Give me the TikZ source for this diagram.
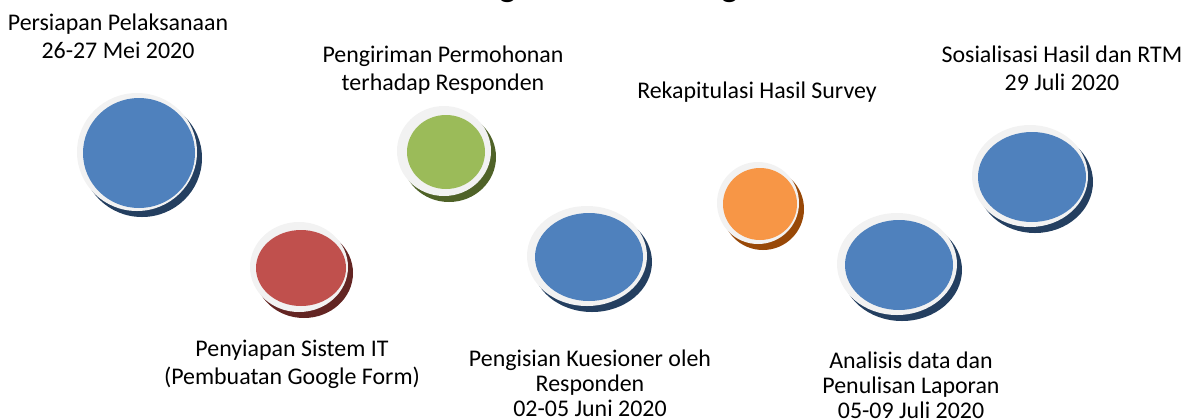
\documentclass[tikz,border=0pt]{standalone}
\usepackage{fontspec}
\setmainfont{Carlito}
\definecolor{bluef}{HTML}{4F81BD}
\definecolor{blues}{HTML}{243F60}
\definecolor{greenf}{HTML}{9BBB59}
\definecolor{greens}{HTML}{4F6228}
\definecolor{orangef}{HTML}{F79646}
\definecolor{oranges}{HTML}{984807}
\definecolor{redf}{HTML}{C0504D}
\definecolor{reds}{HTML}{632523}
\definecolor{ring}{HTML}{F2F2F2}
\tikzset{
  lbl/.style={font=\fontsize{24}{28.5}\selectfont, align=center, inner sep=0pt, anchor=base},
  lbltight/.style={lbl, font=\fontsize{24}{25}\selectfont},
  ttl/.style={font=\fontsize{36}{40}\selectfont, inner sep=0pt, anchor=base},
}
% #1 name, #2 cx, #3 cy, #4 rx, #5 ry, #6 fill, #7 shadow, #8 inner rx, #9 inner ry
\newcommand{\disc}[9]{%
  \fill[#7] (#2+5,#3+6) ellipse [x radius=#4, y radius=#5];
  \fill[ring] (#2,#3) ellipse [x radius=#4, y radius=#5];
  \fill[#6] (#2+2,#3+1) ellipse [x radius=#8, y radius=#9];
  \coordinate (#1) at (#2,#3);
}
\begin{document}
\begin{tikzpicture}[x=1bp,y=-1bp]
\useasboundingbox (0,0) rectangle (1192,419);
% clipped title fragments
\node[ttl] (t1) at (507.5,-4) {g};
\node[ttl] (t2) at (729.5,-4) {g};
% discs
\disc{c1}{137}{152}{60}{59}{bluef}{blues}{56}{55}
\disc{c2}{444}{151}{47}{45}{greenf}{greens}{39}{37}
\disc{c3}{299}{267}{49}{45}{redf}{reds}{45}{38}
\disc{c4}{587}{256}{60}{50}{bluef}{blues}{54}{44}
\disc{c5}{758}{203}{41}{41}{orangef}{oranges}{37}{36}
\disc{c6}{897}{264}{60}{51}{bluef}{blues}{54}{45}
\disc{c7}{1030}{176}{58}{51}{bluef}{blues}{54}{45}
% labels (anchor = baseline of last line)
\node[lbl] (l1) at (118,58.5) {Persiapan Pelaksanaan\\26-27 Mei 2020};
\node[lbl] (l2) at (443,90.5) {Pengiriman Permohonan\\terhadap Responden};
\node[lbl] (l3) at (757,98.5) {Rekapitulasi Hasil Survey};
\node[lbl] (l4) at (1062,90.5) {Sosialisasi Hasil dan RTM\\29 Juli 2020};
\node[lbl] (l5) at (292,384.5) {Penyiapan Sistem IT\\(Pembuatan Google Form)};
\node[lbltight] (l6) at (590,416.5) {Pengisian Kuesioner oleh\\Responden\\02-05 Juni 2020};
\node[lbltight] (l7) at (911,418.5) {Analisis data dan\\Penulisan Laporan\\05-09 Juli 2020};
\end{tikzpicture}
\end{document}
